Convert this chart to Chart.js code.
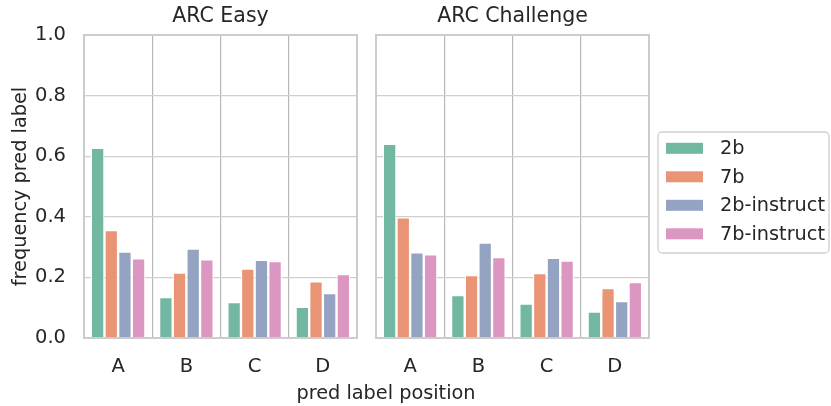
<!DOCTYPE html>
<html lang="en">
<head>
<meta charset="UTF-8">
<title>pred label position</title>
<script src="https://cdn.jsdelivr.net/npm/chart.js@4.4.1/dist/chart.umd.min.js"></script>
<style>
  body { margin: 0; background: #fff; }
  #wrap { position: relative; width: 831px; height: 406px; font-family: "DejaVu Sans", sans-serif; }
  #c1 { position: absolute; left: 0; top: 0; }
  #c2 { position: absolute; left: 366px; top: 0; }
  #xlab { position: absolute; left: 0; width: 772px; top: 381px; text-align: center;
          font-size: 19.3px; color: #262626; line-height: 24px; }
</style>
</head>
<body>
<div id="wrap">
  <canvas id="c1" width="360" height="406"></canvas>
  <canvas id="c2" width="465" height="406"></canvas>
  <div id="xlab">pred label position</div>
</div>
<script>
// data
var categories = ['A', 'B', 'C', 'D'];
var seriesNames = ['2b', '7b', '2b-instruct', '7b-instruct'];
var colors = ['#71b7a1', '#e99575', '#95a3c3', '#db96c1'];

// ARC Easy
var easy2b   = [0.628, 0.135, 0.119, 0.103];
var easy7b   = [0.356, 0.216, 0.229, 0.187];
var easy2bI  = [0.285, 0.295, 0.258, 0.148];
var easy7bI  = [0.263, 0.260, 0.254, 0.211];

// ARC Challenge
var chal2b   = [0.641, 0.142, 0.114, 0.087];
var chal7b   = [0.398, 0.208, 0.214, 0.165];
var chal2bI  = [0.283, 0.315, 0.265, 0.122];
var chal7bI  = [0.276, 0.267, 0.256, 0.185];

var yTicks = [0, 0.2, 0.4, 0.6, 0.8, 1.0];

var FONT = '"DejaVu Sans", sans-serif';
var TXT = '#262626';

function makeSets(arrs) {
    var sets = [];
    for (var i = 0; i < arrs.length; i++) {
        sets.push({
            label: seriesNames[i],
            data: arrs[i],
            backgroundColor: colors[i],
            borderColor: '#ffffff',
            borderWidth: 1.2,
            categoryPercentage: 0.8,
            barPercentage: 1.0
        });
    }
    return sets;
}

// title centred over the plot area + frame round it
var panelDeco = {
    id: 'panelDeco',
    afterDatasetsDraw: function (chart, args, opts) {
        var a = chart.chartArea, ctx = chart.ctx;
        ctx.save();
        ctx.strokeStyle = '#cccccc';
        ctx.lineWidth = 2;
        ctx.strokeRect(a.left, a.top, a.right - a.left, a.bottom - a.top);
        ctx.fillStyle = TXT;
        ctx.font = '20.5px ' + FONT;
        ctx.textAlign = 'center';
        ctx.textBaseline = 'middle';
        ctx.fillText(opts.text, (a.left + a.right) / 2, 17);
        ctx.restore();
    }
};

// boxed legend on the right of the second panel
var boxLegend = {
    id: 'boxLegend',
    afterDraw: function (chart) {
        var ctx = chart.ctx;
        var x0 = 292, y0 = 132, w = 171, h = 121;
        ctx.save();
        ctx.fillStyle = '#ffffff';
        ctx.strokeStyle = '#d0d0d0';
        ctx.lineWidth = 1.3;
        ctx.beginPath();
        ctx.roundRect(x0, y0, w, h, 4);
        ctx.fill();
        ctx.stroke();
        ctx.font = '19.3px ' + FONT;
        ctx.textBaseline = 'middle';
        ctx.textAlign = 'left';
        chart.data.datasets.forEach(function (ds, i) {
            var cy = 148.3 + i * 28.5;
            ctx.fillStyle = ds.backgroundColor;
            ctx.fillRect(300, cy - 5.5, 37, 11);
            ctx.fillStyle = TXT;
            ctx.fillText(ds.label, 354, cy + 1);
        });
        ctx.restore();
    }
};

function yScale(showTicks) {
    return {
        min: 0, max: 1,
        afterBuildTicks: function (s) { s.ticks = yTicks.map(function (v) { return { value: v }; }); },
        afterFit: function (s) { s.width = showTicks ? 84 : 0; },
        grid: { color: '#cfcfcf', lineWidth: 1.3, drawTicks: false },
        border: { display: false },
        ticks: {
            display: showTicks,
            padding: 18,
            color: TXT,
            font: { family: FONT, size: 19.5 },
            callback: function (v) { return Number(v).toFixed(1); }
        },
        title: {
            display: showTicks,
            text: 'frequency pred label',
            color: TXT,
            font: { family: FONT, size: 19.3 },
            padding: { top: 9, bottom: 2 }
        }
    };
}

function xScale() {
    return {
        afterFit: function (s) { s.height = 68; },
        grid: { color: '#b8b8b8', lineWidth: 1.2, drawTicks: false, offset: true },
        border: { display: false },
        ticks: { padding: 17, color: TXT, font: { family: FONT, size: 19.5 } }
    };
}

function commonOpts(title, pad) {
    return {
        responsive: false,
        animation: false,
        layout: { padding: pad },
        plugins: {
            legend: { display: false },
            tooltip: { enabled: false },
            panelDeco: { text: title }
        }
    };
}

var o1 = commonOpts('ARC Easy', { left: 0, top: 35, right: 3, bottom: 0 });
o1.scales = { x: xScale(), y: yScale(true) };
new Chart(document.getElementById('c1'), {
    type: 'bar',
    data: { labels: categories, datasets: makeSets([easy2b, easy7b, easy2bI, easy7bI]) },
    options: o1,
    plugins: [panelDeco]
});

var o2 = commonOpts('ARC Challenge', { left: 10, top: 35, right: 182, bottom: 0 });
o2.scales = { x: xScale(), y: yScale(false) };
new Chart(document.getElementById('c2'), {
    type: 'bar',
    data: { labels: categories, datasets: makeSets([chal2b, chal7b, chal2bI, chal7bI]) },
    options: o2,
    plugins: [panelDeco, boxLegend]
});
</script>
</body>
</html>
